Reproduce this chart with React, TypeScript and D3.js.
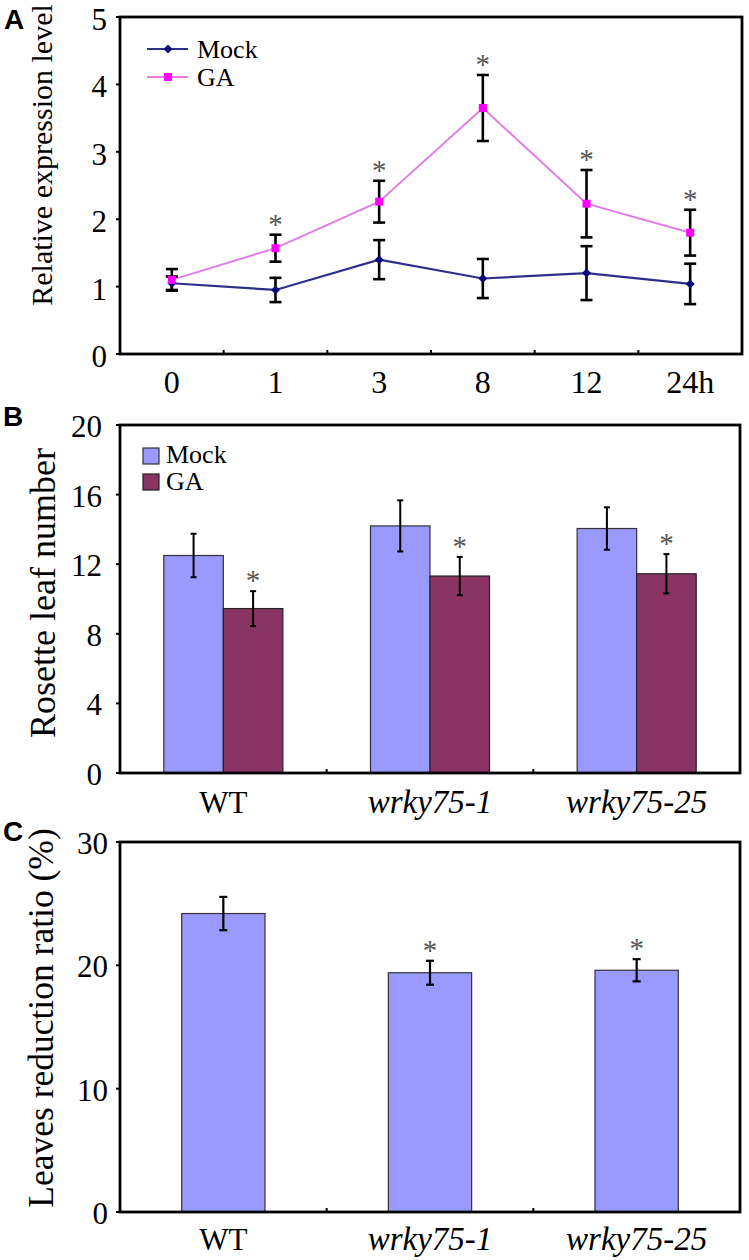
import React from "react";
import * as d3 from "d3";

// ---------- Panel A data ----------
const timeLabels = ["0", "1", "3", "8", "12", "24h"];
const mockExpr = [1.05, 0.95, 1.4, 1.12, 1.2, 1.04];
const mockExprErr = [0.1, 0.18, 0.29, 0.29, 0.4, 0.3];
const gaExpr = [1.1, 1.57, 2.26, 3.65, 2.23, 1.8];
const gaExprErr = [0.16, 0.2, 0.31, 0.49, 0.5, 0.34];
const gaExprSig = [false, true, true, true, true, true];
const exprTicks = [0, 1, 2, 3, 4, 5];

// ---------- Panel B data ----------
const genotypes = ["WT", "wrky75-1", "wrky75-25"];
const mockLeaf = [12.5, 14.2, 14.05];
const mockLeafErr = [1.25, 1.47, 1.22];
const gaLeaf = [9.45, 11.32, 11.45];
const gaLeafErr = [1.0, 1.1, 1.13];
const leafTicks = [0, 4, 8, 12, 16, 20];

// ---------- Panel C data ----------
const ratio = [24.2, 19.4, 19.6];
const ratioErr = [1.35, 0.97, 0.9];
const ratioSig = [false, true, true];
const ratioTicks = [0, 10, 20, 30];

const SERIF = "'Liberation Serif', 'Times New Roman', serif";
const SANS = "'Liberation Sans', Arial, sans-serif";
const MOCK_BAR = "#9999FF";
const GA_BAR = "#8A3464";
const MOCK_LINE = "#2E2E8C";
const MOCK_MARK = "#0A0A78";
const GA_LINE = "#E07EE6";
const GA_MARK = "#FF00FF";
const STAR = "#555";

function Frame({ x0, x1, y0, y1 }: { x0: number; x1: number; y0: number; y1: number }) {
  return (
    <rect x={x0} y={y0} width={x1 - x0} height={y1 - y0} fill="none" stroke="#000" strokeWidth={2.8} />
  );
}

function ErrBar({ x, yTop, yBot, cap, sw = 2.6 }: { x: number; yTop: number; yBot: number; cap: number; sw?: number }) {
  return (
    <g stroke="#000" strokeWidth={sw}>
      <line x1={x} x2={x} y1={yTop} y2={yBot} />
      <line x1={x - cap} x2={x + cap} y1={yTop} y2={yTop} />
      <line x1={x - cap} x2={x + cap} y1={yBot} y2={yBot} />
    </g>
  );
}

function Star({ x, y }: { x: number; y: number }) {
  return (
    <text x={x} y={y} textAnchor="middle" fontFamily={SERIF} fontSize={29} fill={STAR}>
      *
    </text>
  );
}

export default function App() {
  // Panel A
  const L = 120, R = 742;
  const ax = d3.scalePoint<string>().domain(timeLabels).range([L, R]).padding(0.5);
  const ay = d3.scaleLinear().domain([0, 5]).range([354, 17]);
  const step = ax.step();
  const lineGen = d3
    .line<number>()
    .x((_, i) => ax(timeLabels[i]) as number)
    .y((d) => ay(d));

  // Panel B
  const bx = d3.scaleBand<string>().domain(genotypes).range([120, 740]).padding(0);
  const by = d3.scaleLinear().domain([0, 20]).range([773, 425]);
  const bw = bx.bandwidth();
  const barW = bw * 0.288;

  // Panel C
  const cx = d3.scaleBand<string>().domain(genotypes).range([120, 740]).padding(0);
  const cy = d3.scaleLinear().domain([0, 30]).range([1212, 842]);
  const cBarW = cx.bandwidth() * 0.403;

  const catLabel = (g: string, x: number, y: number) => (
    <text
      key={g}
      x={x}
      y={y}
      textAnchor="middle"
      fontFamily={SERIF}
      fontSize={g === "WT" ? 31 : 33}
      fontStyle={g === "WT" ? "normal" : "italic"}
    >
      {g}
    </text>
  );

  return (
    <svg
      width={749}
      height={1260}
      style={{ position: "absolute", left: 0, top: 0, background: "#fff" }}
      xmlns="http://www.w3.org/2000/svg"
    >
      <rect x={0} y={0} width={749} height={1260} fill="#fff" />

      {/* ================= Panel A ================= */}
      <text x={4} y={29} fontFamily={SANS} fontWeight="bold" fontSize={28}>A</text>
      <text
        transform={`translate(52,155) rotate(-90)`}
        textAnchor="middle"
        fontFamily={SERIF}
        fontSize={30}
      >
        Relative expression level
      </text>
      {exprTicks.map((t) => (
        <g key={t}>
          <line x1={L - 4} x2={L} y1={ay(t)} y2={ay(t)} stroke="#000" strokeWidth={2} />
          <text x={107} y={ay(t) + 13} textAnchor="end" fontFamily={SERIF} fontSize={31}>
            {t}
          </text>
        </g>
      ))}
      {timeLabels.slice(0, -1).map((t) => (
        <line
          key={t}
          x1={(ax(t) as number) + step / 2}
          x2={(ax(t) as number) + step / 2}
          y1={ay(0)}
          y2={ay(0) - 4}
          stroke="#000"
          strokeWidth={2}
        />
      ))}
      {timeLabels.map((t) => (
        <text key={t} x={ax(t) as number} y={393} textAnchor="middle" fontFamily={SERIF} fontSize={32}>
          {t}
        </text>
      ))}
      {/* lines */}
      <path d={lineGen(mockExpr) || ""} fill="none" stroke={MOCK_LINE} strokeWidth={2.2} />
      <path d={lineGen(gaExpr) || ""} fill="none" stroke={GA_LINE} strokeWidth={2} />
      {/* error bars */}
      {mockExpr.map((v, i) => (
        <ErrBar
          key={"me" + i}
          x={ax(timeLabels[i]) as number}
          yTop={ay(v + mockExprErr[i])}
          yBot={ay(v - mockExprErr[i])}
          cap={6}
        />
      ))}
      {gaExpr.map((v, i) => (
        <ErrBar
          key={"ge" + i}
          x={ax(timeLabels[i]) as number}
          yTop={ay(v + gaExprErr[i])}
          yBot={ay(v - gaExprErr[i])}
          cap={6}
        />
      ))}
      {/* markers */}
      {mockExpr.map((v, i) => {
        const x = ax(timeLabels[i]) as number;
        const y = ay(v);
        return (
          <path key={"mm" + i} d={`M${x},${y - 4.5}L${x + 4.5},${y}L${x},${y + 4.5}L${x - 4.5},${y}Z`} fill={MOCK_MARK} />
        );
      })}
      {gaExpr.map((v, i) => {
        const x = ax(timeLabels[i]) as number;
        const y = ay(v);
        return <rect key={"gm" + i} x={x - 4} y={y - 4} width={8} height={8} fill={GA_MARK} />;
      })}
      {gaExpr.map((v, i) =>
        gaExprSig[i] ? <Star key={"gs" + i} x={ax(timeLabels[i]) as number} y={ay(v + gaExprErr[i]) - 1} /> : null
      )}
      {/* legend A */}
      <line x1={147} x2={188} y1={49} y2={49} stroke={MOCK_LINE} strokeWidth={2} />
      <path d={`M168,44.5L172.5,49L168,53.5L163.5,49Z`} fill={MOCK_MARK} />
      <text x={197} y={58} fontFamily={SERIF} fontSize={26}>Mock</text>
      <line x1={147} x2={188} y1={77} y2={77} stroke={GA_LINE} strokeWidth={2} />
      <rect x={164} y={73} width={8} height={8} fill={GA_MARK} />
      <text x={197} y={86} fontFamily={SERIF} fontSize={26}>GA</text>
      <Frame x0={L} x1={R} y0={ay(5)} y1={ay(0)} />

      {/* ================= Panel B ================= */}
      <text x={3} y={426} fontFamily={SANS} fontWeight="bold" fontSize={28}>B</text>
      <text
        transform={`translate(55,593) rotate(-90)`}
        textAnchor="middle"
        fontFamily={SERIF}
        fontSize={36}
      >
        Rosette leaf number
      </text>
      {leafTicks.map((t) => (
        <g key={t}>
          <line x1={116} x2={120} y1={by(t)} y2={by(t)} stroke="#000" strokeWidth={2} />
          <text x={102} y={by(t) + 12} textAnchor="end" fontFamily={SERIF} fontSize={31}>
            {t}
          </text>
        </g>
      ))}
      {genotypes.slice(1).map((g) => (
        <line key={g} x1={bx(g) as number} x2={bx(g) as number} y1={by(0)} y2={by(0) - 4} stroke="#000" strokeWidth={2} />
      ))}
      {genotypes.map((g, i) => {
        const c = (bx(g) as number) + bw / 2;
        return (
          <g key={g}>
            <rect x={c - barW} y={by(mockLeaf[i])} width={barW} height={by(0) - by(mockLeaf[i])} fill={MOCK_BAR} stroke="#333" strokeWidth={1.2} />
            <rect x={c} y={by(gaLeaf[i])} width={barW} height={by(0) - by(gaLeaf[i])} fill={GA_BAR} stroke="#222" strokeWidth={1.2} />
            <ErrBar x={c - barW / 2} yTop={by(mockLeaf[i] + mockLeafErr[i])} yBot={by(mockLeaf[i] - mockLeafErr[i])} cap={3} sw={2} />
            <ErrBar x={c + barW / 2} yTop={by(gaLeaf[i] + gaLeafErr[i])} yBot={by(gaLeaf[i] - gaLeafErr[i])} cap={3} sw={2} />
            <Star x={c + barW / 2} y={by(gaLeaf[i] + gaLeafErr[i]) - 1} />
          </g>
        );
      })}
      {genotypes.map((g) => catLabel(g, (bx(g) as number) + bw / 2, 813))}
      {/* legend B */}
      <rect x={143} y={448} width={16} height={16} fill={MOCK_BAR} stroke="#333" strokeWidth={1.2} />
      <text x={166} y={463} fontFamily={SERIF} fontSize={26}>Mock</text>
      <rect x={143} y={474} width={16} height={16} fill={GA_BAR} stroke="#222" strokeWidth={1.2} />
      <text x={166} y={490} fontFamily={SERIF} fontSize={26}>GA</text>
      <Frame x0={120} x1={740} y0={by(20)} y1={by(0)} />

      {/* ================= Panel C ================= */}
      <text x={3} y={841} fontFamily={SANS} fontWeight="bold" fontSize={28}>C</text>
      <text
        transform={`translate(53,1018) rotate(-90)`}
        textAnchor="middle"
        fontFamily={SERIF}
        fontSize={35.5}
      >
        Leaves reduction ratio (%)
      </text>
      {ratioTicks.map((t) => (
        <g key={t}>
          <line x1={116} x2={120} y1={cy(t)} y2={cy(t)} stroke="#000" strokeWidth={2} />
          <text x={108} y={cy(t) + 12} textAnchor="end" fontFamily={SERIF} fontSize={31}>
            {t}
          </text>
        </g>
      ))}
      {genotypes.slice(1).map((g) => (
        <line key={g} x1={cx(g) as number} x2={cx(g) as number} y1={cy(0)} y2={cy(0) - 4} stroke="#000" strokeWidth={2} />
      ))}
      {genotypes.map((g, i) => {
        const c = (cx(g) as number) + cx.bandwidth() / 2;
        return (
          <g key={g}>
            <rect x={c - cBarW / 2} y={cy(ratio[i])} width={cBarW} height={cy(0) - cy(ratio[i])} fill={MOCK_BAR} stroke="#333" strokeWidth={1.2} />
            <ErrBar x={c} yTop={cy(ratio[i] + ratioErr[i])} yBot={cy(ratio[i] - ratioErr[i])} cap={4} sw={2.2} />
            {ratioSig[i] ? <Star x={c} y={cy(ratio[i] + ratioErr[i]) - 1} /> : null}
          </g>
        );
      })}
      {genotypes.map((g) => catLabel(g, (cx(g) as number) + cx.bandwidth() / 2, 1250))}
      <Frame x0={120} x1={740} y0={cy(30)} y1={cy(0)} />
    </svg>
  );
}
